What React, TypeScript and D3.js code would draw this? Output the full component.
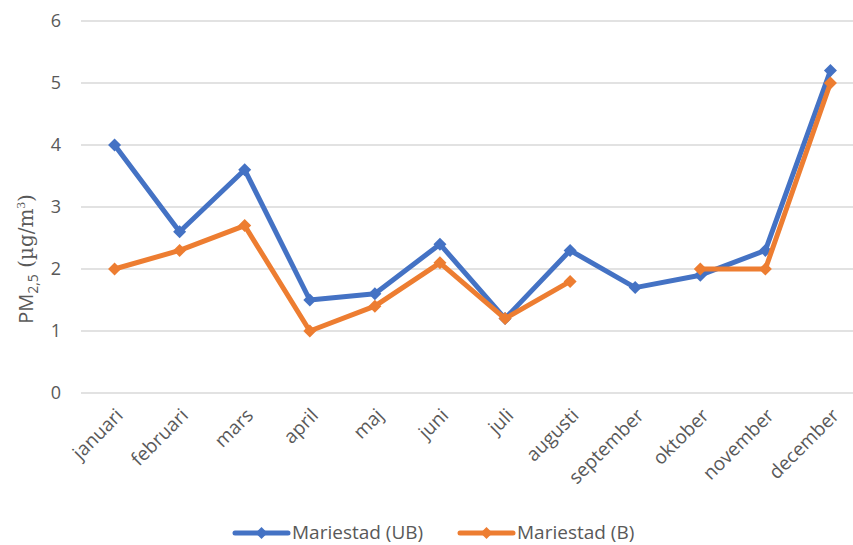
import React from "react";
import * as d3 from "d3";

const months = [
  "januari", "februari", "mars", "april", "maj", "juni",
  "juli", "augusti", "september", "oktober", "november", "december",
];
const seriesUB: (number | null)[] = [4.0, 2.6, 3.6, 1.5, 1.6, 2.4, 1.2, 2.3, 1.7, 1.9, 2.3, 5.2];
const seriesB: (number | null)[] = [2.0, 2.3, 2.7, 1.0, 1.4, 2.1, 1.2, 1.8, null, 2.0, 2.0, 5.0];
const yTicks = [0, 1, 2, 3, 4, 5, 6];
const seriesNames = ["Mariestad (UB)", "Mariestad (B)"];

const W = 853;
const H = 545;
const FONT = "'Open Sans', sans-serif";
const TEXT = "#595959";
const COLORS = ["#4472C4", "#ED7D31"];

export default function App() {
  const x = d3.scaleBand<string>().domain(months).range([82, 863]);
  const y = d3.scaleLinear().domain([0, 6]).range([393, 21]);
  const cx = (m: string) => (x(m) ?? 0) + x.bandwidth() / 2;

  const line = d3
    .line<number | null>()
    .defined((d) => d !== null)
    .x((_, i) => cx(months[i]))
    .y((d) => y(d as number));

  const diamond = (px: number, py: number, r = 6.5) =>
    `M${px},${py - r}L${px + r},${py}L${px},${py + r}L${px - r},${py}Z`;

  const series = [seriesUB, seriesB];

  return (
    <svg width={W} height={H} style={{ position: "absolute", left: 0, top: 0, background: "#fff" }}>
      {/* horizontal gridlines */}
      {yTicks.map((t) => (
        <line key={t} x1={81} x2={W} y1={y(t)} y2={y(t)} stroke="#d9d9d9" strokeWidth={1.5} />
      ))}
      {/* y tick labels */}
      {yTicks.map((t) => (
        <text key={"yt" + t} x={61} y={y(t)} dy="0.36em" textAnchor="end" fontFamily={FONT} fontSize={18} fill={TEXT}>
          {t}
        </text>
      ))}
      {/* y axis title */}
      <text transform="translate(33,259) rotate(-90)" textAnchor="middle" fill={TEXT} fontSize={20}>
        <tspan fontFamily={FONT}>PM</tspan>
        <tspan fontFamily={FONT} fontSize={14} dy={5}>2,5</tspan>
        <tspan fontFamily="'DejaVu Serif', 'Liberation Serif', serif" dy={-5}> (µg/m</tspan>
        <tspan fontFamily="'Liberation Serif', serif" fontSize={13} dy={-8}>3</tspan>
        <tspan fontFamily="'DejaVu Serif', serif" dy={8}>)</tspan>
      </text>
      {/* x labels */}
      {months.map((m) => (
        <text
          key={m}
          transform={`translate(${cx(m) + 5},${412}) rotate(-45)`}
          textAnchor="end"
          dy="0.35em"
          fontFamily={FONT}
          fontSize={19}
          fill={TEXT}
        >
          {m}
        </text>
      ))}
      {/* series lines and markers */}
      {series.map((s, si) => (
        <g key={si}>
          <path d={line(s) ?? ""} fill="none" stroke={COLORS[si]} strokeWidth={5} strokeLinejoin="round" />
          {s.map((v, i) =>
            v === null ? null : <path key={i} d={diamond(cx(months[i]), y(v))} fill={COLORS[si]} />
          )}
        </g>
      ))}
      {/* legend */}
      {seriesNames.map((name, i) => {
        const lx = i === 0 ? 235 : 460;
        const ly = 533;
        return (
          <g key={name}>
            <line x1={lx} x2={lx + 53} y1={ly} y2={ly} stroke={COLORS[i]} strokeWidth={5} strokeLinecap="round" />
            <path d={diamond(lx + 26.5, ly, 6)} fill={COLORS[i]} />
            <text x={lx + 57} y={ly} dy="0.33em" fontFamily={FONT} fontSize={19} fill={TEXT}>
              {name}
            </text>
          </g>
        );
      })}
    </svg>
  );
}
